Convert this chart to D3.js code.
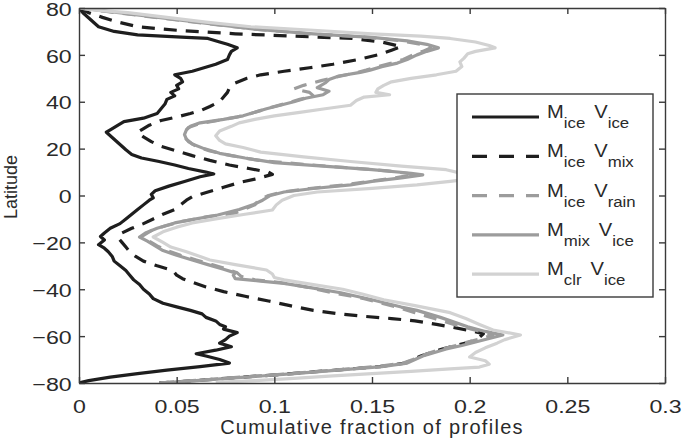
<!DOCTYPE html>
<html>
<head>
<meta charset="utf-8">
<script src="https://cdnjs.cloudflare.com/ajax/libs/d3/7.8.5/d3.min.js"></script>
<style>
	body { margin: 0; background: #fff; }
	svg { display: block; }
</style>
</head>
<body>
<div id="lat_graph"></div>
<script>
// series: [latitude, cumulative fraction]
var miceVice = [ [ 80, 0 ], [ 78, 0.002 ], [ 75, 0.006 ], [ 72, 0.010 ], [ 70, 0.018 ], [ 68.5, 0.030 ], [ 67.5, 0.055 ], [ 67, 0.066 ], [ 65.5, 0.072 ], [ 64.5, 0.076 ], [ 63, 0.081 ], [ 61.5, 0.078 ], [ 60, 0.077 ], [ 58, 0.076 ], [ 56, 0.070 ], [ 54.5, 0.064 ], [ 53, 0.058 ], [ 51.5, 0.049 ], [ 50, 0.052 ], [ 48.5, 0.053 ], [ 47, 0.050 ], [ 45.5, 0.051 ], [ 44, 0.047 ], [ 42.5, 0.049 ], [ 41, 0.045 ], [ 39, 0.044 ], [ 37, 0.042 ], [ 35, 0.040 ], [ 33, 0.033 ], [ 31.5, 0.023 ], [ 30, 0.020 ], [ 28, 0.016 ], [ 27, 0.014 ], [ 25.5, 0.016 ], [ 24, 0.018 ], [ 22.5, 0.020 ], [ 21, 0.022 ], [ 19.5, 0.024 ], [ 17.5, 0.027 ], [ 16, 0.032 ], [ 14.5, 0.041 ], [ 13, 0.049 ], [ 11.5, 0.056 ], [ 10, 0.065 ], [ 9.2, 0.069 ], [ 8, 0.062 ], [ 6, 0.054 ], [ 4, 0.046 ], [ 2, 0.039 ], [ 0.5, 0.037 ], [ -1, 0.038 ], [ -2, 0.036 ], [ -4, 0.033 ], [ -6, 0.030 ], [ -8, 0.027 ], [ -10, 0.024 ], [ -12, 0.021 ], [ -14, 0.016 ], [ -16, 0.013 ], [ -17.5, 0.011 ], [ -19, 0.013 ], [ -21, 0.010 ], [ -22.5, 0.013 ], [ -24, 0.015 ], [ -26, 0.017 ], [ -28, 0.018 ], [ -30, 0.021 ], [ -32, 0.024 ], [ -34, 0.026 ], [ -36, 0.028 ], [ -38, 0.031 ], [ -40, 0.033 ], [ -42, 0.036 ], [ -44, 0.038 ], [ -46, 0.043 ], [ -47.5, 0.050 ], [ -49, 0.057 ], [ -50.5, 0.063 ], [ -52, 0.065 ], [ -53.5, 0.070 ], [ -55, 0.072 ], [ -56, 0.075 ], [ -57, 0.074 ], [ -58.5, 0.081 ], [ -60, 0.077 ], [ -61.5, 0.075 ], [ -63, 0.072 ], [ -64.5, 0.078 ], [ -66, 0.070 ], [ -67.5, 0.060 ], [ -68.5, 0.065 ], [ -70, 0.072 ], [ -71.5, 0.077 ], [ -73, 0.062 ], [ -74.5, 0.045 ], [ -76, 0.030 ], [ -77.5, 0.016 ], [ -79, 0.005 ], [ -80, 0 ] ];

var miceVmix = [ [ 80, 0 ], [ 78, 0.005 ], [ 76, 0.012 ], [ 74, 0.020 ], [ 72, 0.030 ], [ 70.5, 0.050 ], [ 69, 0.080 ], [ 68, 0.110 ], [ 67, 0.140 ], [ 65.5, 0.155 ], [ 63.5, 0.165 ], [ 62, 0.160 ], [ 60, 0.153 ], [ 58, 0.143 ], [ 56, 0.130 ], [ 54.5, 0.118 ], [ 53, 0.105 ], [ 51.5, 0.093 ], [ 50, 0.086 ], [ 48, 0.080 ], [ 46, 0.077 ], [ 44, 0.076 ], [ 42, 0.074 ], [ 40, 0.072 ], [ 38, 0.067 ], [ 36.5, 0.063 ], [ 35, 0.057 ], [ 33.5, 0.050 ], [ 32, 0.042 ], [ 30, 0.036 ], [ 28, 0.032 ], [ 27, 0.030 ], [ 25, 0.033 ], [ 23, 0.037 ], [ 21, 0.042 ], [ 19, 0.050 ], [ 17, 0.058 ], [ 15, 0.067 ], [ 13, 0.077 ], [ 11.5, 0.087 ], [ 10, 0.097 ], [ 9, 0.099 ], [ 7, 0.090 ], [ 5.5, 0.082 ], [ 3.5, 0.074 ], [ 1.5, 0.066 ], [ -0.5, 0.058 ], [ -2, 0.055 ], [ -4, 0.052 ], [ -6, 0.049 ], [ -8, 0.043 ], [ -10, 0.038 ], [ -12, 0.033 ], [ -14, 0.027 ], [ -16, 0.022 ], [ -18, 0.020 ], [ -20, 0.022 ], [ -22, 0.024 ], [ -24, 0.026 ], [ -26, 0.029 ], [ -28, 0.033 ], [ -30, 0.040 ], [ -32, 0.048 ], [ -34, 0.050 ], [ -35.5, 0.053 ], [ -37, 0.058 ], [ -39, 0.065 ], [ -41, 0.074 ], [ -43, 0.085 ], [ -45, 0.097 ], [ -47, 0.108 ], [ -49, 0.120 ], [ -50.5, 0.133 ], [ -51.5, 0.145 ], [ -52.5, 0.160 ], [ -53.5, 0.172 ], [ -55, 0.183 ], [ -56.5, 0.193 ], [ -58, 0.202 ], [ -59, 0.207 ], [ -60.5, 0.205 ], [ -62.5, 0.200 ], [ -65.5, 0.186 ], [ -68.5, 0.175 ], [ -71.5, 0.167 ], [ -73, 0.154 ], [ -74.4, 0.133 ], [ -76, 0.109 ], [ -77.5, 0.084 ], [ -79, 0.059 ], [ -80, 0.041 ] ];

var miceVrain = [ [ 80, 0 ], [ 78.5, 0.014 ], [ 77, 0.029 ], [ 75, 0.049 ], [ 73, 0.069 ], [ 71, 0.090 ], [ 69, 0.118 ], [ 67.5, 0.148 ], [ 66, 0.165 ], [ 64.5, 0.175 ], [ 63, 0.180 ], [ 61.5, 0.176 ], [ 60, 0.171 ], [ 58, 0.166 ], [ 56.5, 0.160 ], [ 55, 0.153 ], [ 53.5, 0.147 ], [ 52, 0.140 ], [ 50.5, 0.131 ], [ 49, 0.124 ], [ 47, 0.115 ], [ 45.5, 0.110 ], [ 44, 0.118 ], [ 42.5, 0.120 ], [ 41, 0.113 ], [ 39.5, 0.107 ], [ 38, 0.100 ], [ 36.5, 0.094 ], [ 35, 0.088 ], [ 33.5, 0.081 ], [ 32, 0.071 ], [ 30.5, 0.061 ], [ 29, 0.056 ], [ 27, 0.054 ], [ 25, 0.054 ], [ 23, 0.056 ], [ 21, 0.060 ], [ 19, 0.067 ], [ 17, 0.078 ], [ 15, 0.092 ], [ 13.5, 0.112 ], [ 12, 0.135 ], [ 10.5, 0.158 ], [ 9, 0.172 ], [ 7.5, 0.162 ], [ 6, 0.148 ], [ 4.5, 0.136 ], [ 3, 0.118 ], [ 1.5, 0.104 ], [ 0, 0.097 ], [ -2, 0.092 ], [ -4, 0.090 ], [ -6, 0.084 ], [ -7.5, 0.080 ], [ -9, 0.066 ], [ -11, 0.053 ], [ -13, 0.044 ], [ -15, 0.037 ], [ -17.5, 0.032 ], [ -19.5, 0.036 ], [ -21.5, 0.040 ], [ -23.5, 0.045 ], [ -25.5, 0.052 ], [ -27.5, 0.060 ], [ -29.5, 0.068 ], [ -31.5, 0.076 ], [ -33, 0.081 ], [ -34.5, 0.083 ], [ -36, 0.090 ], [ -37, 0.102 ], [ -39, 0.116 ], [ -41.5, 0.130 ], [ -44, 0.146 ], [ -47.5, 0.162 ], [ -50, 0.172 ], [ -52.5, 0.182 ], [ -55, 0.192 ], [ -57, 0.201 ], [ -59.5, 0.212 ], [ -61, 0.206 ], [ -62.5, 0.199 ], [ -64, 0.193 ], [ -65.5, 0.186 ], [ -67, 0.180 ], [ -68.5, 0.175 ], [ -70, 0.171 ], [ -71.5, 0.166 ], [ -73, 0.152 ], [ -74.4, 0.132 ], [ -76, 0.108 ], [ -77.5, 0.083 ], [ -79, 0.058 ], [ -80, 0.040 ] ];

var mmixVice = [ [ 80, 0 ], [ 78.5, 0.015 ], [ 77, 0.030 ], [ 75, 0.050 ], [ 73, 0.070 ], [ 71, 0.090 ], [ 69, 0.120 ], [ 67.5, 0.150 ], [ 66, 0.168 ], [ 64.5, 0.178 ], [ 63, 0.184 ], [ 61.5, 0.178 ], [ 60, 0.173 ], [ 58, 0.168 ], [ 56.5, 0.163 ], [ 55, 0.155 ], [ 53.5, 0.149 ], [ 52.5, 0.144 ], [ 51, 0.133 ], [ 49.5, 0.128 ], [ 48, 0.126 ], [ 46, 0.122 ], [ 44.5, 0.128 ], [ 43, 0.125 ], [ 41.5, 0.116 ], [ 40, 0.110 ], [ 38.5, 0.103 ], [ 37, 0.096 ], [ 35.5, 0.090 ], [ 34, 0.084 ], [ 32.5, 0.074 ], [ 31, 0.062 ], [ 29.5, 0.057 ], [ 28, 0.055 ], [ 26, 0.054 ], [ 24, 0.055 ], [ 22, 0.058 ], [ 20, 0.064 ], [ 18, 0.072 ], [ 16, 0.085 ], [ 14, 0.100 ], [ 12.5, 0.125 ], [ 11, 0.150 ], [ 9.5, 0.170 ], [ 8.8, 0.176 ], [ 7.5, 0.165 ], [ 6, 0.150 ], [ 4.5, 0.139 ], [ 3, 0.120 ], [ 1.5, 0.105 ], [ 0, 0.098 ], [ -2, 0.094 ], [ -4, 0.089 ], [ -6, 0.082 ], [ -8.3, 0.071 ], [ -10, 0.060 ], [ -11.7, 0.049 ], [ -14, 0.040 ], [ -16, 0.034 ], [ -17.7, 0.031 ], [ -19.5, 0.035 ], [ -21.5, 0.039 ], [ -23.5, 0.043 ], [ -25.5, 0.050 ], [ -27.5, 0.058 ], [ -29.5, 0.066 ], [ -31.5, 0.074 ], [ -33, 0.080 ], [ -34, 0.079 ], [ -35.5, 0.080 ], [ -36.5, 0.093 ], [ -37.5, 0.105 ], [ -39.5, 0.120 ], [ -41.5, 0.134 ], [ -44.5, 0.150 ], [ -47.6, 0.165 ], [ -49, 0.173 ], [ -52, 0.185 ], [ -54, 0.192 ], [ -56, 0.199 ], [ -58, 0.208 ], [ -59.5, 0.217 ], [ -61, 0.210 ], [ -62.5, 0.203 ], [ -64, 0.196 ], [ -65.5, 0.188 ], [ -67, 0.182 ], [ -68.5, 0.176 ], [ -70, 0.172 ], [ -71.5, 0.168 ], [ -73, 0.155 ], [ -74.4, 0.134 ], [ -76, 0.110 ], [ -77.5, 0.085 ], [ -79, 0.060 ], [ -80, 0.041 ] ];

var mclrVice = [ [ 80, 0 ], [ 79, 0.010 ], [ 78, 0.025 ], [ 76, 0.045 ], [ 74, 0.065 ], [ 72, 0.088 ], [ 70.5, 0.120 ], [ 69, 0.150 ], [ 68, 0.175 ], [ 67, 0.190 ], [ 65.5, 0.203 ], [ 64, 0.210 ], [ 63, 0.213 ], [ 61.5, 0.203 ], [ 60.5, 0.199 ], [ 58.5, 0.197 ], [ 57, 0.195 ], [ 55, 0.196 ], [ 53, 0.193 ], [ 51.5, 0.183 ], [ 50, 0.170 ], [ 48.5, 0.160 ], [ 47, 0.156 ], [ 45.5, 0.153 ], [ 44, 0.152 ], [ 43, 0.159 ], [ 42, 0.146 ], [ 40.5, 0.142 ], [ 38.5, 0.139 ], [ 37, 0.126 ], [ 35.5, 0.113 ], [ 34, 0.100 ], [ 32.5, 0.090 ], [ 31, 0.082 ], [ 29.5, 0.078 ], [ 27.5, 0.072 ], [ 25.5, 0.070 ], [ 23.5, 0.072 ], [ 22, 0.075 ], [ 20.5, 0.084 ], [ 18.5, 0.093 ], [ 16.5, 0.115 ], [ 14.5, 0.139 ], [ 12.5, 0.165 ], [ 11, 0.188 ], [ 9, 0.198 ], [ 7.5, 0.205 ], [ 6, 0.190 ], [ 4.5, 0.173 ], [ 3, 0.150 ], [ 1.5, 0.122 ], [ 0, 0.110 ], [ -2, 0.104 ], [ -4, 0.101 ], [ -6.2, 0.099 ], [ -8, 0.085 ], [ -10, 0.070 ], [ -11.7, 0.058 ], [ -13.5, 0.050 ], [ -15.5, 0.043 ], [ -17.7, 0.038 ], [ -20, 0.043 ], [ -22, 0.047 ], [ -24, 0.055 ], [ -26, 0.062 ], [ -27.5, 0.067 ], [ -29.5, 0.080 ], [ -31.8, 0.096 ], [ -33.5, 0.099 ], [ -35, 0.100 ], [ -36, 0.105 ], [ -38, 0.120 ], [ -40, 0.135 ], [ -42, 0.145 ], [ -44.5, 0.156 ], [ -47, 0.172 ], [ -50, 0.190 ], [ -52.5, 0.198 ], [ -55, 0.205 ], [ -57.4, 0.212 ], [ -59.5, 0.226 ], [ -61.5, 0.218 ], [ -63, 0.214 ], [ -65, 0.208 ], [ -67, 0.203 ], [ -68.9, 0.200 ], [ -70.5, 0.208 ], [ -72, 0.210 ], [ -73.2, 0.205 ], [ -74, 0.190 ], [ -75, 0.170 ], [ -76, 0.150 ], [ -77, 0.130 ], [ -78, 0.110 ], [ -79, 0.090 ], [ -79.7, 0.070 ] ];

// legend labels: main letter + subscript
var seriesNames = [ [ "M", "ice", "V", "ice" ], [ "M", "ice", "V", "mix" ], [ "M", "ice", "V", "rain" ], [ "M", "mix", "V", "ice" ], [ "M", "clr", "V", "ice" ] ];

var xTicks = [ 0, 0.05, 0.1, 0.15, 0.2, 0.25, 0.3 ];
var xTickLabels = [ "0", "0.05", "0.1", "0.15", "0.2", "0.25", "0.3" ];
var yTicks = [ -80, -60, -40, -20, 0, 20, 40, 60, 80 ];

var series = [ miceVice, miceVmix, miceVrain, mmixVice, mclrVice ];
var colors = [ "#1e1e1e", "#1e1e1e", "#9c9c9c", "#9c9c9c", "#d2d2d2" ];
var dashes = [ null, "13,9", "13,9", null, null ];

var margin = { top: 8, right: 17, bottom: 64, left: 79 },
	width = 682 - margin.left - margin.right,
	height = 447 - margin.top - margin.bottom;

var x = d3.scaleLinear()
	.domain( [ 0, 0.3 ] )
	.range( [ 0, width ] );

var y = d3.scaleLinear()
	.domain( [ -80, 80 ] )
	.range( [ height, 0 ] );

var svg = d3.select( "#lat_graph" )
	.append( "svg" )
	.attr( "width", 682 )
	.attr( "height", 447 );

var g = svg.append( "g" )
	.attr( "transform", "translate(" + margin.left + "," + margin.top + ")" );

var line = d3.line()
	.x( function( d ) { return x( d[ 1 ] ); } )
	.y( function( d ) { return y( d[ 0 ] ); } );

// clip to the axes box
g.append( "clipPath" )
	.attr( "id", "clip" )
	.append( "rect" )
	.attr( "width", width )
	.attr( "height", height );

// draw series in legend order so the last one sits on top
g.append( "g" )
	.attr( "clip-path", "url(#clip)" )
	.selectAll( "path" )
	.data( series )
	.enter()
	.append( "path" )
	.attr( "d", line )
	.attr( "fill", "none" )
	.attr( "stroke", function( d, i ) { return colors[ i ]; } )
	.attr( "stroke-width", 3.2 )
	.attr( "stroke-linejoin", "round" )
	.attr( "stroke-dasharray", function( d, i ) { return dashes[ i ]; } );

// axes, ticks pointing inward on all four sides
var xAxis = d3.axisBottom( x )
	.tickValues( xTicks )
	.tickFormat( function( d, i ) { return xTickLabels[ i ]; } )
	.tickSizeInner( -6 )
	.tickSizeOuter( 0 )
	.tickPadding( 17 );

var yAxis = d3.axisLeft( y )
	.tickValues( yTicks )
	.tickFormat( d3.format( "d" ) )
	.tickSizeInner( -6 )
	.tickSizeOuter( 0 )
	.tickPadding( 6 );

g.append( "g" )
	.attr( "class", "x axis" )
	.attr( "transform", "translate(0," + height + ")" )
	.call( xAxis );

g.append( "g" )
	.attr( "class", "y axis" )
	.call( yAxis );

g.append( "g" )
	.attr( "transform", "translate(" + width + ",0)" )
	.call( d3.axisRight( y ).tickValues( yTicks ).tickFormat( "" ).tickSizeInner( -6 ).tickSizeOuter( 0 ) );

g.append( "g" )
	.call( d3.axisTop( x ).tickValues( xTicks ).tickFormat( "" ).tickSizeInner( -6 ).tickSizeOuter( 0 ) );

g.selectAll( ".domain, .tick line" )
	.attr( "stroke", "#3a3a3a" )
	.attr( "stroke-width", 1.4 );

g.selectAll( ".axis text" )
	.attr( "fill", "#2a2a2a" )
	.style( "font-family", "'Liberation Sans', Arial, sans-serif" )
	.style( "font-size", "19px" )
	.attr( "transform", "scale(1.22,1)" );

g.selectAll( ".y.axis text" )
	.attr( "dy", "0.38em" );

// axis labels
svg.append( "text" )
	.attr( "x", margin.left + width / 2 )
	.attr( "y", 434 )
	.attr( "text-anchor", "middle" )
	.attr( "fill", "#2a2a2a" )
	.style( "font-family", "'Liberation Sans', Arial, sans-serif" )
	.style( "font-size", "20px" )
	.style( "letter-spacing", "1.3px" )
	.text( "Cumulative fraction of profiles" );

svg.append( "text" )
	.attr( "transform", "translate(17,187) rotate(-90)" )
	.attr( "text-anchor", "middle" )
	.attr( "fill", "#2a2a2a" )
	.style( "font-family", "'Liberation Sans', Arial, sans-serif" )
	.style( "font-size", "18px" )
	.text( "Latitude" );

// legend
var legend = svg.append( "g" )
	.attr( "transform", "translate(457,94)" );

legend.append( "rect" )
	.attr( "width", 196 )
	.attr( "height", 203 )
	.attr( "fill", "#fff" )
	.attr( "stroke", "#3a3a3a" )
	.attr( "stroke-width", 1.4 );

var rows = legend.selectAll( ".row" )
	.data( seriesNames )
	.enter()
	.append( "g" )
	.attr( "class", "row" )
	.attr( "transform", function( d, i ) { return "translate(0," + ( 23 + i * 39.3 ) + ")"; } );

rows.append( "line" )
	.attr( "x1", 15 )
	.attr( "x2", 82 )
	.attr( "stroke", function( d, i ) { return colors[ i ]; } )
	.attr( "stroke-width", 3.2 )
	.attr( "stroke-dasharray", function( d, i ) { return dashes[ i ] ? "15,12" : null; } );

var label = rows.append( "text" )
	.attr( "transform", "translate(90,1) scale(1.12,1)" )
	.attr( "fill", "#2a2a2a" )
	.style( "font-family", "'Liberation Sans', Arial, sans-serif" )
	.style( "font-size", "18px" );

label.append( "tspan" ).text( function( d ) { return d[ 0 ]; } );
label.append( "tspan" )
	.attr( "dy", 10 )
	.style( "font-size", "15px" )
	.text( function( d ) { return d[ 1 ]; } );
label.append( "tspan" )
	.attr( "dy", -10 )
	.attr( "dx", 8 )
	.text( function( d ) { return d[ 2 ]; } );
label.append( "tspan" )
	.attr( "dy", 10 )
	.style( "font-size", "15px" )
	.text( function( d ) { return d[ 3 ]; } );
</script>
</body>
</html>
